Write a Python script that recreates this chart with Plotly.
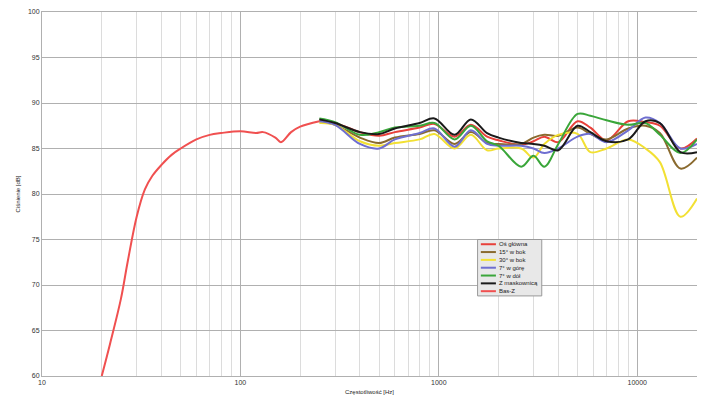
import plotly.graph_objects as go

bas_f = [20, 22, 25, 27, 30, 33, 36, 40, 45, 50, 60, 70, 80, 100, 120, 130, 150, 160, 180, 200, 250]
bas_db = [60.0, 63.5, 68.5, 72.5, 77.5, 80.5, 82.0, 83.2, 84.3, 85.0, 86.0, 86.5, 86.7, 86.9, 86.7,
          86.8, 86.2, 85.7, 86.8, 87.4, 88.0]

freq = [250, 300, 400, 500, 600, 800, 950, 1200, 1450, 1750, 2000, 2600, 3000, 3400, 4000,
        5000, 5800, 7000, 9000, 11000, 13000, 16500, 20000]
os_glowna = [88.1, 87.8, 86.8, 86.4, 86.8, 87.3, 87.7, 86.3, 87.6, 86.3, 85.9, 85.4, 85.8, 86.3, 85.7,
             88.0, 87.3, 85.9, 88.0, 87.9, 87.5, 85.0, 86.1]
bok15 = [88.0, 87.6, 86.2, 85.6, 86.2, 86.6, 87.0, 85.5, 86.8, 85.6, 85.5, 85.5, 86.2, 86.5, 86.4,
         87.3, 86.6, 86.0, 87.2, 87.5, 86.7, 82.8, 84.0]
bok30 = [87.8, 87.6, 85.8, 85.3, 85.6, 86.0, 86.6, 85.0, 86.5, 84.8, 85.0, 85.0, 84.0, 85.5, 86.5,
         86.6, 84.6, 85.0, 86.0, 85.0, 83.5, 77.5, 79.5]
gora7 = [88.0, 87.6, 85.5, 85.0, 86.0, 86.7, 87.2, 85.2, 87.0, 85.5, 85.3, 85.3, 85.0, 84.5, 85.0,
         86.3, 86.6, 85.7, 87.0, 88.4, 87.8, 85.0, 85.5]
dol7 = [88.3, 87.9, 86.5, 86.8, 87.3, 87.5, 87.8, 86.0, 87.5, 85.8, 85.3, 83.0, 84.2, 83.0, 85.5,
        88.8, 88.6, 88.1, 87.6, 87.8, 86.5, 84.5, 86.0]
maskownica = [88.2, 87.8, 86.8, 86.6, 87.2, 87.8, 88.3, 86.5, 88.2, 86.7, 86.2, 85.6, 85.5, 85.3, 84.8,
              87.5, 86.8, 85.8, 86.0, 88.0, 87.8, 84.6, 84.6]

series = [
    ("Oś główna", freq, os_glowna, "#e8403a"),
    ("15° w bok", freq, bok15, "#8a6a2e"),
    ("30° w bok", freq, bok30, "#f2e033"),
    ("7° w górę", freq, gora7, "#6f6fd0"),
    ("7° w dół", freq, dol7, "#3aa63a"),
    ("Z maskownicą", freq, maskownica, "#1a1a1a"),
    ("Bas-Z", bas_f, bas_db, "#f05050"),
]

fig = go.Figure()
for name, x, y, c in series:
    fig.add_trace(go.Scatter(x=x, y=y, name=name, mode="lines", line_shape="spline",
                             line=dict(color=c, width=2), showlegend=False))

# small legend box drawn by hand (plotly's legend rows are too tall here)
fig.add_shape(type="rect", xref="paper", yref="paper", x0=0.665, x1=0.763, y0=0.22, y1=0.375,
              fillcolor="#e8e8e8", line=dict(color="#999", width=1))
for i, (name, x, y, c) in enumerate(series):
    yy = 0.362 - i * 0.0215
    fig.add_shape(type="line", xref="paper", yref="paper", x0=0.67, x1=0.693, y0=yy, y1=yy,
                  line=dict(color=c, width=2))
    fig.add_annotation(xref="paper", yref="paper", x=0.695, y=yy, text=name, showarrow=False,
                       xanchor="left", yanchor="middle", font=dict(size=6, color="#222"))

ax = dict(showline=True, linecolor="#b0b0b0", gridcolor="#b0b0b0", zeroline=False,
          tickfont=dict(size=7, color="#333"), ticks="", automargin=False)
fig.update_xaxes(type="log", range=[1, 4.301], tickvals=[10, 100, 1000, 10000],
                 ticktext=["10", "100", "1000", "10000"],
                 minor=dict(showgrid=True, gridcolor="#dcdcdc", dtick="D1"),
                 title=dict(text="Częstotliwość [Hz]", font=dict(size=6), standoff=4), mirror=True, **ax)
fig.update_yaxes(range=[60, 100], dtick=5,
                 title=dict(text="Ciśnienie [dB]", font=dict(size=6), standoff=6), mirror=True, **ax)
fig.update_layout(
    width=705, height=413, plot_bgcolor="white", paper_bgcolor="white",
    font=dict(family="Liberation Sans, DejaVu Sans", size=7, color="#222"),
    margin=dict(l=34, r=16, t=4, b=45),
)
fig.write_html("out.html")
